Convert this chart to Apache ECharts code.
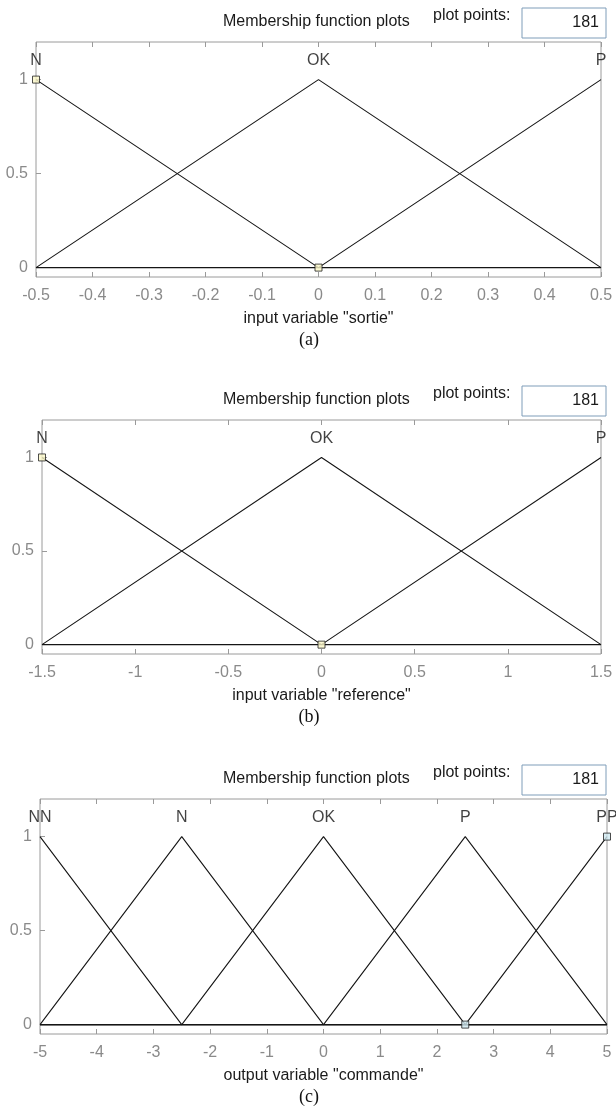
<!DOCTYPE html>
<html>
<head>
<meta charset="utf-8">
<script src="https://cdn.jsdelivr.net/npm/echarts@6/dist/echarts.min.js"></script>
<style>
html,body{margin:0;padding:0;background:#fff;}
#c{width:616px;height:1115px;}
</style>
</head>
<body>
<div id="c"></div>
<script>
// ---- Panel (a): input variable "sortie"
const sortieRange = [-0.5, 0.5];
const sortieInterval = 0.1;
const sortieN  = [[-0.5, 1], [0, 0], [0.5, 0]];
const sortieOK = [[-0.5, 0], [0, 1], [0.5, 0]];
const sortieP  = [[-0.5, 0], [0, 0], [0.5, 1]];
const sortieNames = ['N', 'OK', 'P'];
const sortiePeaks = [-0.5, 0, 0.5];
const sortieMarks = [[-0.5, 1], [0, 0]];

// ---- Panel (b): input variable "reference"
const referenceRange = [-1.5, 1.5];
const referenceInterval = 0.5;
const referenceN  = [[-1.5, 1], [0, 0], [1.5, 0]];
const referenceOK = [[-1.5, 0], [0, 1], [1.5, 0]];
const referenceP  = [[-1.5, 0], [0, 0], [1.5, 1]];
const referenceNames = ['N', 'OK', 'P'];
const referencePeaks = [-1.5, 0, 1.5];
const referenceMarks = [[-1.5, 1], [0, 0]];

// ---- Panel (c): output variable "commande"
const commandeRange = [-5, 5];
const commandeInterval = 1;
const commandeNN = [[-5, 1], [-2.5, 0], [5, 0]];
const commandeN  = [[-5, 0], [-2.5, 1], [0, 0], [5, 0]];
const commandeOK = [[-5, 0], [-2.5, 0], [0, 1], [2.5, 0], [5, 0]];
const commandeP  = [[-5, 0], [0, 0], [2.5, 1], [5, 0]];
const commandePP = [[-5, 0], [2.5, 0], [5, 1]];
const commandeNames = ['NN', 'N', 'OK', 'P', 'PP'];
const commandePeaks = [-5, -2.5, 0, 2.5, 5];
const commandeMarks = [[2.5, 0], [5, 1]];

const yRange = [-0.05, 1.2];
const yTickValues = [0, 0.5, 1];
const labelLevel = 1.1;
const plotPoints = '181';

const panels = [
  {range: sortieRange, interval: sortieInterval, mfs: [sortieN, sortieOK, sortieP],
   names: sortieNames, peaks: sortiePeaks, marks: sortieMarks,
   xname: 'input variable "sortie"', caption: '(a)', markFill: '#fbf7c8',
   grid: {left: 36, top: 42, width: 565, height: 235}},
  {range: referenceRange, interval: referenceInterval, mfs: [referenceN, referenceOK, referenceP],
   names: referenceNames, peaks: referencePeaks, marks: referenceMarks,
   xname: 'input variable "reference"', caption: '(b)', markFill: '#fbf7c8',
   grid: {left: 42, top: 420, width: 559, height: 234}},
  {range: commandeRange, interval: commandeInterval, mfs: [commandeNN, commandeN, commandeOK, commandeP, commandePP],
   names: commandeNames, peaks: commandePeaks, marks: commandeMarks,
   xname: 'output variable "commande"', caption: '(c)', markFill: '#cfe8f0',
   grid: {left: 40, top: 799, width: 567, height: 235}}
];

const FONT = '"Liberation Sans", Arial, sans-serif';
const FS = 16;
const AX = '#9a9a9a';
const grids = [], xAxes = [], yAxes = [], series = [], graphics = [];

panels.forEach((p, i) => {
  grids.push(Object.assign({show: true, borderColor: AX, borderWidth: 1, backgroundColor: '#fff'}, p.grid));
  xAxes.push({
    type: 'value', gridIndex: i, position: 'bottom', min: p.range[0], max: p.range[1], interval: p.interval,
    axisLine: {show: false, onZero: false}, splitLine: {show: false},
    axisTick: {show: true, inside: true, length: 5, lineStyle: {color: AX}},
    axisLabel: {color: '#8a8a8a', fontFamily: FONT, fontSize: FS, margin: 11, showMinLabel: true, showMaxLabel: true},
    name: p.xname, nameLocation: 'middle', nameGap: 34,
    nameTextStyle: {color: '#1a1a1a', fontFamily: FONT, fontSize: FS}
  });
  xAxes.push({
    type: 'value', gridIndex: i, position: 'top', min: p.range[0], max: p.range[1], interval: p.interval,
    axisLine: {show: false, onZero: false}, splitLine: {show: false},
    axisTick: {show: true, inside: true, length: 5, lineStyle: {color: AX}},
    axisLabel: {show: false}
  });
  yAxes.push({
    type: 'value', gridIndex: i, position: 'left', min: yRange[0], max: yRange[1],
    axisLine: {show: false, onZero: false}, splitLine: {show: false},
    axisTick: {show: true, inside: true, length: 5, lineStyle: {color: AX}, customValues: yTickValues},
    axisLabel: {color: '#8a8a8a', fontFamily: FONT, fontSize: FS, margin: 8, customValues: yTickValues}
  });
  p.mfs.forEach(mf => {
    series.push({
      type: 'line', xAxisIndex: 2 * i, yAxisIndex: i, data: mf,
      showSymbol: false, symbol: 'none', animation: false, silent: true,
      lineStyle: {color: '#151515', width: 1.1}
    });
  });
  series.push({
    type: 'scatter', xAxisIndex: 2 * i, yAxisIndex: i,
    data: p.marks, symbol: 'rect', symbolSize: 7, animation: false, silent: true,
    itemStyle: {color: p.markFill, borderColor: '#222', borderWidth: 1}, z: 5
  });
  series.push({
    type: 'scatter', xAxisIndex: 2 * i, yAxisIndex: i, animation: false, silent: true,
    data: p.names.map((n, k) => [p.peaks[k], labelLevel, n]),
    symbolSize: 0,
    label: {show: true, position: 'inside', formatter: d => d.data[2], color: '#111', fontFamily: FONT, fontSize: FS}
  });
  const gt = p.grid.top;
  graphics.push({type: 'text', x: 223, y: gt - 20, style: {text: 'Membership function plots', fill: '#1a1a1a', font: FS + 'px ' + FONT, verticalAlign: 'middle'}});
  graphics.push({type: 'text', x: 433, y: gt - 26, style: {text: 'plot points:', fill: '#1a1a1a', font: FS + 'px ' + FONT, verticalAlign: 'middle'}});
  graphics.push({type: 'rect', shape: {x: 522, y: gt - 34, width: 84, height: 30}, style: {fill: '#fff', stroke: '#7f9db9', lineWidth: 1}});
  graphics.push({type: 'text', x: 599, y: gt - 19, style: {text: plotPoints, fill: '#1a1a1a', font: FS + 'px ' + FONT, align: 'right', verticalAlign: 'middle'}});
  graphics.push({type: 'text', x: 309, y: gt + p.grid.height + 63,
    style: {text: p.caption, fill: '#111', font: '18px "Liberation Serif", "DejaVu Serif", serif', align: 'center', verticalAlign: 'middle'}});
});

const chart = echarts.init(document.getElementById('c'), null, {renderer: 'canvas'});
chart.setOption({
  animation: false,
  backgroundColor: '#fff',
  grid: grids, xAxis: xAxes, yAxis: yAxes, series: series, graphic: graphics
});
</script>
</body>
</html>
